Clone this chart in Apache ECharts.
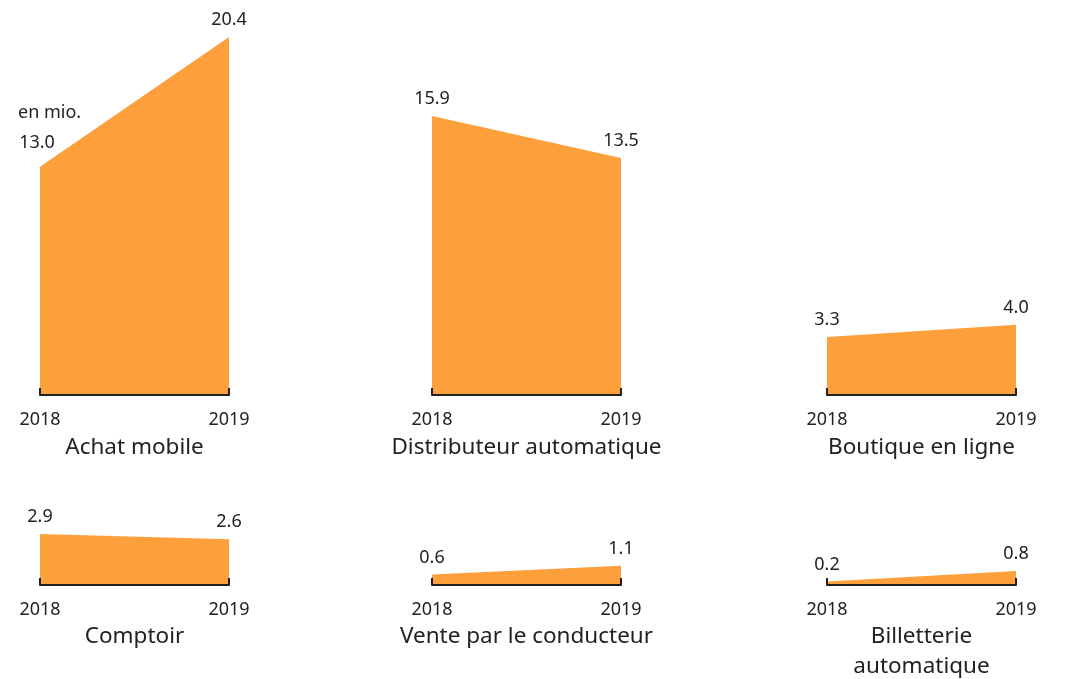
<!DOCTYPE html>
<html>
<head>
<meta charset="utf-8">
<script src="https://cdn.jsdelivr.net/npm/echarts@6/dist/echarts.min.js"></script>
<style>html,body{margin:0;padding:0;background:#fff}#c{width:1068px;height:679px}</style>
</head>
<body>
<div id="c"></div>
<script>
const years = ['2018', '2019'];
const panelNames = ['Achat mobile', 'Distributeur automatique', 'Boutique en ligne', 'Comptoir', 'Vente par le conducteur', 'Billetterie\nautomatique'];
const achatMobile = [13.0, 20.4];
const distributeur = [15.9, 13.5];
const boutique = [3.3, 4.0];
const comptoir = [2.9, 2.6];
const venteConducteur = [0.6, 1.1];
const billetterie = [0.2, 0.8];
const unitLabel = 'en mio.';

const seriesData = [achatMobile, distributeur, boutique, comptoir, venteConducteur, billetterie];
const FONT = 'Noto Sans';
const ORANGE = '#fd9f3b';
const lefts = [40, 432, 827];
const W = 189;
const pxPerUnit = 358 / 20.4;
const rowBase = [395, 585];
const rowMax = [20.4, 4];
const titleTop = [433, 622];

const grids = [], xAxes = [], yAxes = [], series = [], graphics = [];
seriesData.forEach((d, i) => {
  const row = Math.floor(i / 3), col = i % 3;
  const h = rowMax[row] * pxPerUnit;
  grids.push({left: lefts[col], width: W, top: rowBase[row] - h, height: h});
  xAxes.push({
    type: 'category', gridIndex: i, data: years, boundaryGap: false,
    axisLine: {show: true, lineStyle: {color: '#222', width: 2}},
    axisTick: {show: true, inside: true, length: 7, lineStyle: {color: '#222', width: 2}},
    axisLabel: {margin: 16, fontSize: 18, color: '#222', fontFamily: FONT},
    z: 5
  });
  yAxes.push({type: 'value', gridIndex: i, min: 0, max: rowMax[row], show: false});
  const items = d.map((v, j) => {
    const it = {value: v};
    if (i === 0 && j === 0) it.label = {offset: [-3, -7]};
    return it;
  });
  series.push({
    type: 'line', xAxisIndex: i, yAxisIndex: i, data: items,
    symbol: 'circle', symbolSize: 0.01, showSymbol: true,
    itemStyle: {color: ORANGE},
    lineStyle: {width: 0, color: ORANGE},
    areaStyle: {color: ORANGE, opacity: 1},
    label: {show: true, position: 'top', distance: 8, fontSize: 18, color: '#222', fontFamily: FONT,
      formatter: p => Number(p.value).toFixed(1)},
    animation: false
  });
  graphics.push({
    type: 'text', x: lefts[col] + W / 2, y: titleTop[row],
    style: {text: panelNames[i], fontSize: 22.5, fontFamily: FONT, fill: '#222', align: 'center', verticalAlign: 'top', lineHeight: 30}
  });
});
graphics.push({type: 'text', x: 18, y: 113, style: {text: unitLabel, fontSize: 18, fontFamily: FONT, fill: '#222', align: 'left', verticalAlign: 'middle'}});

const chart = echarts.init(document.getElementById('c'), null, {renderer: 'canvas'});
chart.setOption({
  animation: false,
  grid: grids, xAxis: xAxes, yAxis: yAxes, series: series, graphic: graphics
});
</script>
</body>
</html>
